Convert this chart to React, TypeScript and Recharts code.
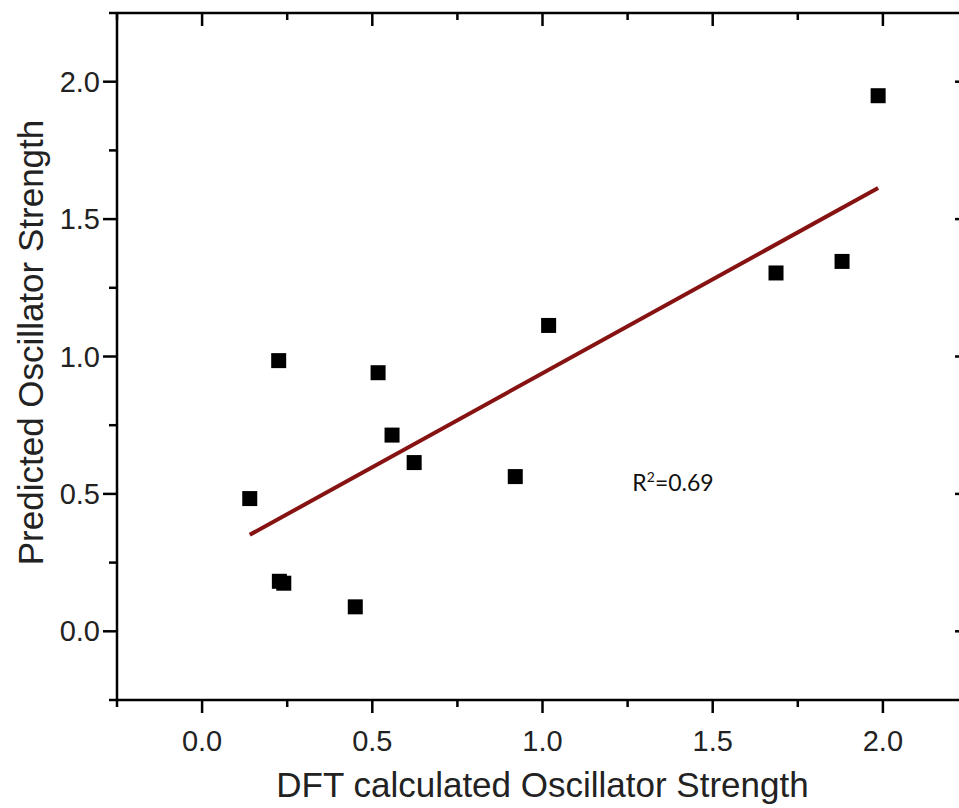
import { ScatterChart, Scatter, XAxis, YAxis, ReferenceDot, Label } from "recharts";

const dftStrength = [0.14, 0.225, 0.227, 0.24, 0.45, 0.517, 0.558, 0.623, 0.92, 1.018, 1.686, 1.88, 1.986];
const predictedStrength = [0.483, 0.985, 0.182, 0.175, 0.089, 0.941, 0.714, 0.614, 0.563, 1.113, 1.304, 1.346, 1.949];
const fitX = [0.14, 1.986];
const fitY = [0.351, 1.613];
const axisTicks = [-0.25, 0, 0.25, 0.5, 0.75, 1, 1.25, 1.5, 1.75, 2, 2.25];
const majorTicks = [0, 0.5, 1, 1.5, 2];
const rSquared = "0.69";
const rLabelAt = { x: 1.264, y: 0.51 };

const points = dftStrength.map((x, i) => ({ x, y: predictedStrength[i] }));
const fitLine = fitX.map((x, i) => ({ x, y: fitY[i] }));

const FONT = "Liberation Sans, Arial, sans-serif";
const AXIS = { stroke: "#000", strokeWidth: 2.5 };
// recharts still shifts custom ticks by tickSize even with tickLine off
const TS = 6;

const isMajor = (v: number) => majorTicks.some((m) => Math.abs(m - v) < 1e-6);

function makeTick(side: "bottom" | "top" | "left" | "right") {
  return function Tick(props: any) {
    const { x, y, payload } = props;
    const v = payload.value as number;
    const major = isMajor(v);
    const len = major ? 13 : 7;
    let line;
    let label = null;
    if (side === "bottom") {
      const ay = y - TS;
      line = <line x1={x} y1={ay} x2={x} y2={ay + len} {...AXIS} />;
      if (major)
        label = (
          <text x={x} y={ay + 51} textAnchor="middle" fontSize={29} fill="#222" fontFamily={FONT}>
            {v.toFixed(1)}
          </text>
        );
    } else if (side === "top") {
      const ay = y + TS;
      line = <line x1={x} y1={ay} x2={x} y2={ay + len} {...AXIS} />;
    } else if (side === "left") {
      const ax = x + TS;
      line = <line x1={ax - len - 1} y1={y} x2={ax} y2={y} {...AXIS} />;
      if (major)
        label = (
          <text x={ax - 17} y={y + 10} textAnchor="end" fontSize={29} fill="#222" fontFamily={FONT}>
            {v.toFixed(1)}
          </text>
        );
    } else {
      const ax = x - TS;
      line = <line x1={ax - len} y1={y} x2={ax} y2={y} {...AXIS} />;
    }
    return (
      <g>
        {line}
        {label}
      </g>
    );
  };
}

const Square = (props: any) => {
  const { cx, cy } = props;
  if (cx == null || cy == null) return <g />;
  return <rect x={cx - 7.5} y={cy - 7.5} width={15} height={15} fill="#000" />;
};

const YTitle = (props: any) => {
  const { viewBox } = props;
  const cx = 30;
  const cy = viewBox.y + viewBox.height / 2 - 14;
  return (
    <text
      x={cx}
      y={cy}
      transform={`rotate(-90, ${cx}, ${cy})`}
      textAnchor="middle"
      dominantBaseline="central"
      fontSize={35}
      fill="#222"
      fontFamily={FONT}
    >
      Predicted Oscillator Strength
    </text>
  );
};

const RLabel = (props: any) => {
  const { cx, cy } = props;
  return (
    <text x={cx} y={cy} fontSize={23} fill="#111" fontFamily="Lato, 'Open Sans', sans-serif">
      R
      <tspan dy={-9} fontSize={14}>
        2
      </tspan>
      <tspan dy={9}>={rSquared}</tspan>
    </text>
  );
};

export default function App() {
  return (
    <div
      style={{
        position: "absolute",
        left: 0,
        top: 0,
        width: 959,
        height: 808,
        overflow: "hidden",
        background: "#fff",
        fontFamily: FONT,
      }}
    >
      <ScatterChart width={980} height={808} margin={{ top: 12, right: 11, bottom: 0, left: 0 }}>
        <XAxis
          xAxisId="main"
          dataKey="x"
          type="number"
          domain={[-0.25, 2.25]}
          ticks={axisTicks}
          interval={0}
          allowDataOverflow
          height={108}
          tickLine={false}
          tickSize={TS}
          tickMargin={0}
          axisLine={AXIS}
          tick={makeTick("bottom")}
        >
          <Label
            value="DFT calculated Oscillator Strength"
            position="insideBottom"
            offset={11}
            fontSize={35}
            fill="#222"
            fontFamily={FONT}
          />
        </XAxis>
        <XAxis
          xAxisId="top"
          orientation="top"
          dataKey="x"
          type="number"
          domain={[-0.25, 2.25]}
          ticks={axisTicks}
          interval={0}
          allowDataOverflow
          height={1}
          tickLine={false}
          tickSize={TS}
          tickMargin={0}
          axisLine={AXIS}
          tick={makeTick("top")}
        />
        <YAxis
          yAxisId="main"
          dataKey="y"
          type="number"
          domain={[-0.25, 2.25]}
          ticks={axisTicks}
          interval={0}
          allowDataOverflow
          width={117}
          tickLine={false}
          tickSize={TS}
          tickMargin={0}
          axisLine={AXIS}
          tick={makeTick("left")}
        >
          <Label content={<YTitle />} />
        </YAxis>
        <YAxis
          yAxisId="right"
          orientation="right"
          dataKey="y"
          type="number"
          domain={[-0.25, 2.25]}
          ticks={axisTicks}
          interval={0}
          allowDataOverflow
          width={1}
          tickLine={false}
          tickSize={TS}
          tickMargin={0}
          axisLine={AXIS}
          tick={makeTick("right")}
        />
        <Scatter
          xAxisId="main"
          yAxisId="main"
          data={points}
          shape={<Square />}
          isAnimationActive={false}
        />
        <Scatter
          xAxisId="main"
          yAxisId="main"
          data={fitLine}
          line={{ stroke: "#861212", strokeWidth: 4 }}
          lineType="joint"
          shape={() => <g />}
          isAnimationActive={false}
        />
        <ReferenceDot
          xAxisId="main"
          yAxisId="main"
          x={rLabelAt.x}
          y={rLabelAt.y}
          r={0}
          ifOverflow="visible"
          shape={<RLabel />}
        />
      </ScatterChart>
    </div>
  );
}
